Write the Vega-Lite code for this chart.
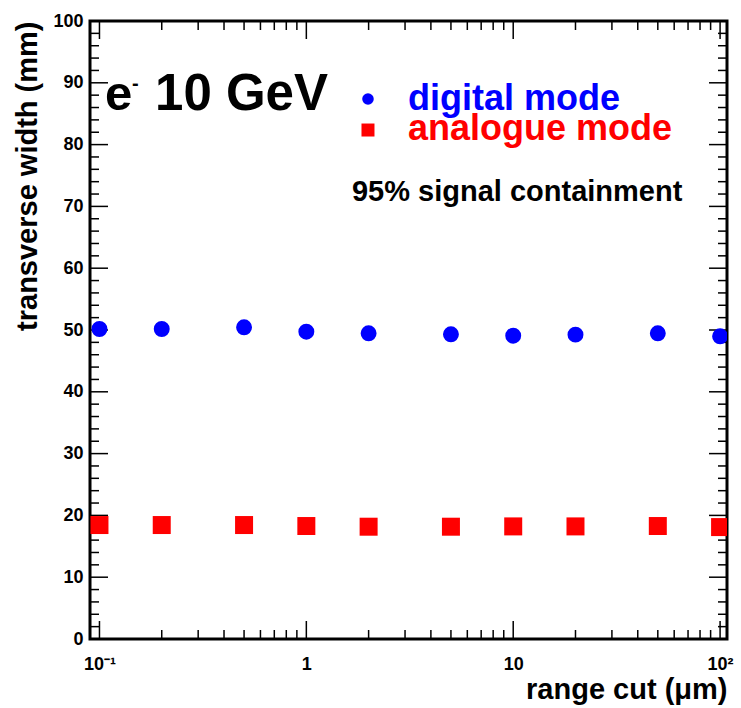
{
  "$schema": "https://vega.github.io/schema/vega-lite/v6.json",
  "width": 637,
  "height": 618,
  "autosize": {"type": "none"},
  "padding": {"left": 90, "top": 21, "right": 14, "bottom": 69},
  "background": "white",
  "config": {
    "view": {"stroke": "#000000", "strokeWidth": 3},
    "axis": {
      "grid": false,
      "domain": false,
      "ticks": false,
      "labelFont": "Liberation Sans",
      "labelFontWeight": "bold",
      "labelFontSize": 18,
      "labelColor": "#000000",
      "titleFont": "Liberation Sans",
      "titleFontWeight": "bold",
      "titleFontSize": 29,
      "titleColor": "#000000",
      "labelOverlap": false
    }
  },
  "datasets": {
    "widths": [
      {"cut": 0.1, "width": 50.16, "mode": "digital mode"},
      {"cut": 0.2, "width": 50.16, "mode": "digital mode"},
      {"cut": 0.5, "width": 50.43, "mode": "digital mode"},
      {"cut": 1, "width": 49.73, "mode": "digital mode"},
      {"cut": 2, "width": 49.46, "mode": "digital mode"},
      {"cut": 5, "width": 49.3, "mode": "digital mode"},
      {"cut": 10, "width": 49.08, "mode": "digital mode"},
      {"cut": 20, "width": 49.25, "mode": "digital mode"},
      {"cut": 50, "width": 49.46, "mode": "digital mode"},
      {"cut": 100, "width": 48.98, "mode": "digital mode"},
      {"cut": 0.1, "width": 18.44, "mode": "analogue mode"},
      {"cut": 0.2, "width": 18.44, "mode": "analogue mode"},
      {"cut": 0.5, "width": 18.44, "mode": "analogue mode"},
      {"cut": 1, "width": 18.28, "mode": "analogue mode"},
      {"cut": 2, "width": 18.17, "mode": "analogue mode"},
      {"cut": 5, "width": 18.17, "mode": "analogue mode"},
      {"cut": 10, "width": 18.22, "mode": "analogue mode"},
      {"cut": 20, "width": 18.22, "mode": "analogue mode"},
      {"cut": 50, "width": 18.28, "mode": "analogue mode"},
      {"cut": 100, "width": 18.11, "mode": "analogue mode"}
    ],
    "xticks": [
      {"v": 0.1, "kind": "major"}, {"v": 0.2, "kind": "minor"}, {"v": 0.3, "kind": "minor"}, {"v": 0.4, "kind": "minor"}, {"v": 0.5, "kind": "minor"}, {"v": 0.6, "kind": "minor"}, {"v": 0.7, "kind": "minor"}, {"v": 0.8, "kind": "minor"}, {"v": 0.9, "kind": "minor"},
      {"v": 1, "kind": "major"}, {"v": 2, "kind": "minor"}, {"v": 3, "kind": "minor"}, {"v": 4, "kind": "minor"}, {"v": 5, "kind": "minor"}, {"v": 6, "kind": "minor"}, {"v": 7, "kind": "minor"}, {"v": 8, "kind": "minor"}, {"v": 9, "kind": "minor"},
      {"v": 10, "kind": "major"}, {"v": 20, "kind": "minor"}, {"v": 30, "kind": "minor"}, {"v": 40, "kind": "minor"}, {"v": 50, "kind": "minor"}, {"v": 60, "kind": "minor"}, {"v": 70, "kind": "minor"}, {"v": 80, "kind": "minor"}, {"v": 90, "kind": "minor"},
      {"v": 100, "kind": "major"}
    ],
    "yticks": [
      {"v": 0, "kind": "major"}, {"v": 2, "kind": "minor"}, {"v": 4, "kind": "minor"}, {"v": 6, "kind": "minor"}, {"v": 8, "kind": "minor"},
      {"v": 10, "kind": "major"}, {"v": 12, "kind": "minor"}, {"v": 14, "kind": "minor"}, {"v": 16, "kind": "minor"}, {"v": 18, "kind": "minor"},
      {"v": 20, "kind": "major"}, {"v": 22, "kind": "minor"}, {"v": 24, "kind": "minor"}, {"v": 26, "kind": "minor"}, {"v": 28, "kind": "minor"},
      {"v": 30, "kind": "major"}, {"v": 32, "kind": "minor"}, {"v": 34, "kind": "minor"}, {"v": 36, "kind": "minor"}, {"v": 38, "kind": "minor"},
      {"v": 40, "kind": "major"}, {"v": 42, "kind": "minor"}, {"v": 44, "kind": "minor"}, {"v": 46, "kind": "minor"}, {"v": 48, "kind": "minor"},
      {"v": 50, "kind": "major"}, {"v": 52, "kind": "minor"}, {"v": 54, "kind": "minor"}, {"v": 56, "kind": "minor"}, {"v": 58, "kind": "minor"},
      {"v": 60, "kind": "major"}, {"v": 62, "kind": "minor"}, {"v": 64, "kind": "minor"}, {"v": 66, "kind": "minor"}, {"v": 68, "kind": "minor"},
      {"v": 70, "kind": "major"}, {"v": 72, "kind": "minor"}, {"v": 74, "kind": "minor"}, {"v": 76, "kind": "minor"}, {"v": 78, "kind": "minor"},
      {"v": 80, "kind": "major"}, {"v": 82, "kind": "minor"}, {"v": 84, "kind": "minor"}, {"v": 86, "kind": "minor"}, {"v": 88, "kind": "minor"},
      {"v": 90, "kind": "major"}, {"v": 92, "kind": "minor"}, {"v": 94, "kind": "minor"}, {"v": 96, "kind": "minor"}, {"v": 98, "kind": "minor"},
      {"v": 100, "kind": "major"}
    ],
    "one": [{}]
  },
  "resolve": {"axis": {"x": "independent", "y": "independent"}},
  "layer": [
    {
      "data": {"name": "xticks"},
      "transform": [{"filter": "datum.kind == 'major'"}],
      "mark": {"type": "point", "shape": "M-0.0417,0L0.0417,0L0.0417,-1L-0.0417,-1Z", "size": 1296, "filled": true, "color": "#000000", "opacity": 1, "strokeWidth": 0},
      "encoding": {
        "x": {"field": "v", "type": "quantitative", "scale": {"type": "log", "domain": [0.09, 108], "nice": false}, "axis": null},
        "y": {"datum": 0, "type": "quantitative", "scale": {"domain": [0, 100], "nice": false, "zero": false}, "axis": null}
      }
    },
    {
      "data": {"name": "xticks"},
      "transform": [{"filter": "datum.kind == 'minor'"}],
      "mark": {"type": "point", "shape": "M-0.0833,0L0.0833,0L0.0833,-1L-0.0833,-1Z", "size": 324, "filled": true, "color": "#000000", "opacity": 1, "strokeWidth": 0},
      "encoding": {
        "x": {"field": "v", "type": "quantitative", "scale": {"type": "log", "domain": [0.09, 108], "nice": false}, "axis": null},
        "y": {"datum": 0, "type": "quantitative", "scale": {"domain": [0, 100], "nice": false, "zero": false}, "axis": null}
      }
    },
    {
      "data": {"name": "xticks"},
      "transform": [{"filter": "datum.kind == 'major'"}],
      "mark": {"type": "point", "shape": "M-0.0417,0L0.0417,0L0.0417,1L-0.0417,1Z", "size": 1296, "filled": true, "color": "#000000", "opacity": 1, "strokeWidth": 0},
      "encoding": {
        "x": {"field": "v", "type": "quantitative", "scale": {"type": "log", "domain": [0.09, 108], "nice": false}, "axis": null},
        "y": {"datum": 100, "type": "quantitative", "scale": {"domain": [0, 100], "nice": false, "zero": false}, "axis": null}
      }
    },
    {
      "data": {"name": "xticks"},
      "transform": [{"filter": "datum.kind == 'minor'"}],
      "mark": {"type": "point", "shape": "M-0.0833,0L0.0833,0L0.0833,1L-0.0833,1Z", "size": 324, "filled": true, "color": "#000000", "opacity": 1, "strokeWidth": 0},
      "encoding": {
        "x": {"field": "v", "type": "quantitative", "scale": {"type": "log", "domain": [0.09, 108], "nice": false}, "axis": null},
        "y": {"datum": 100, "type": "quantitative", "scale": {"domain": [0, 100], "nice": false, "zero": false}, "axis": null}
      }
    },
    {
      "data": {"name": "yticks"},
      "transform": [{"filter": "datum.kind == 'major'"}],
      "mark": {"type": "point", "shape": "M0,-0.0417L1,-0.0417L1,0.0417L0,0.0417Z", "size": 1296, "filled": true, "color": "#000000", "opacity": 1, "strokeWidth": 0},
      "encoding": {
        "y": {"field": "v", "type": "quantitative", "scale": {"domain": [0, 100], "nice": false, "zero": false}, "axis": null},
        "x": {"datum": 0.09, "type": "quantitative", "scale": {"type": "log", "domain": [0.09, 108], "nice": false}, "axis": null}
      }
    },
    {
      "data": {"name": "yticks"},
      "transform": [{"filter": "datum.kind == 'minor'"}],
      "mark": {"type": "point", "shape": "M0,-0.0833L1,-0.0833L1,0.0833L0,0.0833Z", "size": 324, "filled": true, "color": "#000000", "opacity": 1, "strokeWidth": 0},
      "encoding": {
        "y": {"field": "v", "type": "quantitative", "scale": {"domain": [0, 100], "nice": false, "zero": false}, "axis": null},
        "x": {"datum": 0.09, "type": "quantitative", "scale": {"type": "log", "domain": [0.09, 108], "nice": false}, "axis": null}
      }
    },
    {
      "data": {"name": "yticks"},
      "transform": [{"filter": "datum.kind == 'major'"}],
      "mark": {"type": "point", "shape": "M0,-0.0417L-1,-0.0417L-1,0.0417L0,0.0417Z", "size": 1296, "filled": true, "color": "#000000", "opacity": 1, "strokeWidth": 0},
      "encoding": {
        "y": {"field": "v", "type": "quantitative", "scale": {"domain": [0, 100], "nice": false, "zero": false}, "axis": null},
        "x": {"datum": 108, "type": "quantitative", "scale": {"type": "log", "domain": [0.09, 108], "nice": false}, "axis": null}
      }
    },
    {
      "data": {"name": "yticks"},
      "transform": [{"filter": "datum.kind == 'minor'"}],
      "mark": {"type": "point", "shape": "M0,-0.0833L-1,-0.0833L-1,0.0833L0,0.0833Z", "size": 324, "filled": true, "color": "#000000", "opacity": 1, "strokeWidth": 0},
      "encoding": {
        "y": {"field": "v", "type": "quantitative", "scale": {"domain": [0, 100], "nice": false, "zero": false}, "axis": null},
        "x": {"datum": 108, "type": "quantitative", "scale": {"type": "log", "domain": [0.09, 108], "nice": false}, "axis": null}
      }
    },
    {
      "data": {"name": "widths"},
      "mark": {"type": "point", "filled": true, "opacity": 1, "clip": true, "strokeWidth": 0},
      "encoding": {
        "x": {
          "field": "cut", "type": "quantitative",
          "scale": {"type": "log", "domain": [0.09, 108], "nice": false},
          "axis": {
            "orient": "bottom",
            "values": [0.1, 1, 10, 100],
            "labelExpr": "datum.value == 0.1 ? '10⁻¹' : datum.value == 1 ? '1' : datum.value == 10 ? '10' : '10²'",
            "labelPadding": 16,
            "title": "range cut (μm)",
            "titleAnchor": "end",
            "titlePadding": 2
          }
        },
        "y": {
          "field": "width", "type": "quantitative",
          "scale": {"domain": [0, 100], "nice": false, "zero": false},
          "axis": {
            "orient": "left",
            "values": [0, 10, 20, 30, 40, 50, 60, 70, 80, 90, 100],
            "labelPadding": 7,
            "title": "transverse width (mm)",
            "titleAnchor": "end",
            "titlePadding": 10
          }
        },
        "color": {
          "field": "mode", "type": "nominal",
          "scale": {"domain": ["digital mode", "analogue mode"], "range": ["#0000ff", "#ff0000"]},
          "legend": null
        },
        "shape": {
          "field": "mode", "type": "nominal",
          "scale": {"domain": ["digital mode", "analogue mode"], "range": ["circle", "square"]},
          "legend": null
        },
        "size": {
          "field": "mode", "type": "nominal",
          "scale": {"type": "ordinal", "domain": ["digital mode", "analogue mode"], "range": [254, 324]},
          "legend": null
        }
      }
    },
    {
      "data": {"name": "one"},
      "mark": {"type": "point", "shape": "circle", "filled": true, "size": 133, "color": "#0000ff", "opacity": 1, "strokeWidth": 0},
      "encoding": {
        "x": {"datum": 1.986, "type": "quantitative", "scale": {"type": "log", "domain": [0.09, 108], "nice": false}, "axis": null},
        "y": {"datum": 87.38, "type": "quantitative", "scale": {"domain": [0, 100], "nice": false, "zero": false}, "axis": null}
      }
    },
    {
      "data": {"name": "one"},
      "mark": {"type": "point", "shape": "square", "filled": true, "size": 169, "color": "#ff0000", "opacity": 1, "strokeWidth": 0},
      "encoding": {
        "x": {"datum": 1.986, "type": "quantitative", "scale": {"type": "log", "domain": [0.09, 108], "nice": false}, "axis": null},
        "y": {"datum": 82.36, "type": "quantitative", "scale": {"domain": [0, 100], "nice": false, "zero": false}, "axis": null}
      }
    },
    {
      "data": {"name": "one"},
      "mark": {"type": "text", "text": "digital mode", "font": "Liberation Sans", "fontWeight": "bold", "fontSize": 36, "align": "left", "baseline": "alphabetic", "color": "#0000ff"},
      "encoding": {
        "x": {"datum": 3.099, "type": "quantitative", "scale": {"type": "log", "domain": [0.09, 108], "nice": false}, "axis": null},
        "y": {"datum": 85.6, "type": "quantitative", "scale": {"domain": [0, 100], "nice": false, "zero": false}, "axis": null}
      }
    },
    {
      "data": {"name": "one"},
      "mark": {"type": "text", "text": "analogue mode", "font": "Liberation Sans", "fontWeight": "bold", "fontSize": 36, "align": "left", "baseline": "alphabetic", "color": "#ff0000"},
      "encoding": {
        "x": {"datum": 3.099, "type": "quantitative", "scale": {"type": "log", "domain": [0.09, 108], "nice": false}, "axis": null},
        "y": {"datum": 80.74, "type": "quantitative", "scale": {"domain": [0, 100], "nice": false, "zero": false}, "axis": null}
      }
    },
    {
      "data": {"name": "one"},
      "mark": {"type": "text", "text": "e", "font": "Liberation Sans", "fontWeight": "bold", "fontSize": 49, "align": "left", "baseline": "alphabetic", "color": "#000000"},
      "encoding": {
        "x": {"datum": 0.1064, "type": "quantitative", "scale": {"type": "log", "domain": [0.09, 108], "nice": false}, "axis": null},
        "y": {"datum": 85.6, "type": "quantitative", "scale": {"domain": [0, 100], "nice": false, "zero": false}, "axis": null}
      }
    },
    {
      "data": {"name": "one"},
      "mark": {"type": "text", "text": "-", "font": "Liberation Sans", "fontWeight": "bold", "fontSize": 20, "align": "left", "baseline": "alphabetic", "color": "#000000"},
      "encoding": {
        "x": {"datum": 0.1437, "type": "quantitative", "scale": {"type": "log", "domain": [0.09, 108], "nice": false}, "axis": null},
        "y": {"datum": 88.9, "type": "quantitative", "scale": {"domain": [0, 100], "nice": false, "zero": false}, "axis": null}
      }
    },
    {
      "data": {"name": "one"},
      "mark": {"type": "text", "text": "10 GeV", "font": "Liberation Sans", "fontWeight": "bold", "fontSize": 51, "align": "left", "baseline": "alphabetic", "color": "#000000"},
      "encoding": {
        "x": {"datum": 0.1856, "type": "quantitative", "scale": {"type": "log", "domain": [0.09, 108], "nice": false}, "axis": null},
        "y": {"datum": 85.6, "type": "quantitative", "scale": {"domain": [0, 100], "nice": false, "zero": false}, "axis": null}
      }
    },
    {
      "data": {"name": "one"},
      "mark": {"type": "text", "text": "95% signal containment", "font": "Liberation Sans", "fontWeight": "bold", "fontSize": 29, "align": "left", "baseline": "alphabetic", "color": "#000000"},
      "encoding": {
        "x": {"datum": 1.662, "type": "quantitative", "scale": {"type": "log", "domain": [0.09, 108], "nice": false}, "axis": null},
        "y": {"datum": 70.87, "type": "quantitative", "scale": {"domain": [0, 100], "nice": false, "zero": false}, "axis": null}
      }
    }
  ]
}
